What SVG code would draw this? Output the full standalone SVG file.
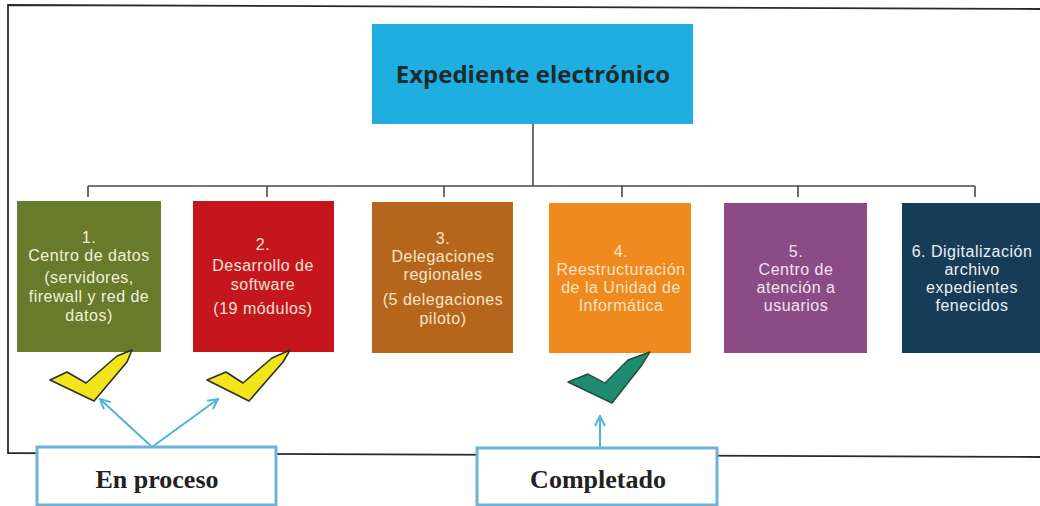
<svg xmlns="http://www.w3.org/2000/svg" width="1040" height="506" viewBox="0 0 1040 506">
<style>
.conn{fill:none;stroke:#4a4a4a;stroke-width:1.6}
.frame{fill:none;stroke:#2a2a2a;stroke-width:1.8}
.bt{font-family:"Liberation Sans",Arial,sans-serif;font-size:16px;letter-spacing:0.5px;text-anchor:middle}
.ttl{font-family:"Open Sans","Noto Sans",sans-serif;font-size:24px;font-weight:bold;fill:#1d2a2e;text-anchor:middle}
.lab{font-family:"Liberation Serif",serif;font-size:26px;font-weight:bold;fill:#222;text-anchor:middle}
.lbox{fill:#fff;stroke:#6cb2da;stroke-width:3}
.arr{fill:none;stroke:#4cb6d6;stroke-width:2}
.chk-y{fill:#f3e51c;stroke:#2e2e2e;stroke-width:1.6;stroke-linejoin:round}
.chk-g{fill:#1f8b6f;stroke:#244a3c;stroke-width:1.4;stroke-linejoin:round}
</style>
<defs>
<marker id="ah" viewBox="0 0 12 12" refX="11" refY="6" markerWidth="12" markerHeight="12" markerUnits="userSpaceOnUse" orient="auto">
<path d="M1,1 L11,6 L1,11" fill="none" stroke="#4cb6d6" stroke-width="2"/>
</marker>
<clipPath id="c4"><rect x="549" y="203" width="142" height="150"/></clipPath>
</defs>
<rect width="1040" height="506" fill="#fff"/>
<path class="frame" d="M1040,9 L8,5 L8,453 L1040,457"/>

<g id="connectors">
<path class="conn" d="M533,124 V186 M88,186 H975 M88,186 V197 M267,186 V197 M444,186 V197 M622,186 V197 M798,186 V197 M975,186 V197"/>
<path class="arr" d="M152,447 L100,399" marker-end="url(#ah)"/>
<path class="arr" d="M152,447 L218,399" marker-end="url(#ah)"/>
<path class="arr" d="M600,447 L600,416" marker-end="url(#ah)"/>
</g>

<g id="root">
<rect x="372" y="24" width="321" height="100" fill="#1eafe0"/>
<text class="ttl" x="533" y="83">Expediente electrónico</text>
</g>

<g id="n1">
<rect x="17" y="201" width="144" height="151" fill="#687a2c"/>
<text class="bt" fill="#f2f0d8"><tspan x="89" y="243">1.</tspan><tspan x="89" y="261">Centro de datos</tspan><tspan x="89" y="283">(servidores,</tspan><tspan x="89" y="302">firewall y red de</tspan><tspan x="89" y="321">datos)</tspan></text>
</g>
<g id="n2">
<rect x="193" y="201" width="141" height="151" fill="#c4161c"/>
<text class="bt" fill="#f6e2d4"><tspan x="263" y="250">2.</tspan><tspan x="263" y="271">Desarrollo de</tspan><tspan x="263" y="290">software</tspan><tspan x="263" y="314">(19 módulos)</tspan></text>
</g>
<g id="n3">
<rect x="372" y="202" width="141" height="151" fill="#b5661c"/>
<text class="bt" fill="#f6e6c6"><tspan x="443" y="244">3.</tspan><tspan x="443" y="262">Delegaciones</tspan><tspan x="443" y="280">regionales</tspan><tspan x="443" y="305">(5 delegaciones</tspan><tspan x="443" y="324">piloto)</tspan></text>
</g>
<g id="n4">
<rect x="549" y="203" width="142" height="150" fill="#ee8a1e"/>
<text class="bt" fill="#fbe4c4" clip-path="url(#c4)"><tspan x="621" y="257">4.</tspan><tspan x="621" y="275">Reestructuración</tspan><tspan x="621" y="293">de la Unidad de</tspan><tspan x="621" y="311">Informática</tspan></text>
</g>
<g id="n5">
<rect x="724" y="203" width="143" height="150" fill="#8b4c86"/>
<text class="bt" fill="#f3e4f0"><tspan x="796" y="257">5.</tspan><tspan x="796" y="275">Centro de</tspan><tspan x="796" y="293">atención a</tspan><tspan x="796" y="311">usuarios</tspan></text>
</g>
<g id="n6">
<rect x="902" y="203" width="140" height="150" fill="#173c57"/>
<text class="bt" fill="#eaf0f4"><tspan x="972" y="257">6. Digitalización</tspan><tspan x="972" y="275">archivo</tspan><tspan x="972" y="293">expedientes</tspan><tspan x="972" y="311">fenecidos</tspan></text>
</g>

<g id="check1"><path class="chk-y" d="M50,380 L67,372 L86,383 L117,356 L132,350 L127,362 L94,401 Z"/></g>
<g id="check2"><path class="chk-y" d="M207,380 L226,372 L243,383 L272,358 L290,350 L283,362 L249,401 Z"/></g>
<g id="check3"><path class="chk-g" d="M568,382 L588,374 L605,383 L628,360 L650,352 L642,365 L612,403 Z"/></g>

<g id="enproceso">
<rect class="lbox" x="37" y="447" width="239" height="58"/>
<text class="lab" x="157" y="488">En proceso</text>
</g>
<g id="completado">
<rect class="lbox" x="477" y="448" width="240" height="57"/>
<text class="lab" x="598" y="488">Completado</text>
</g>
</svg>
